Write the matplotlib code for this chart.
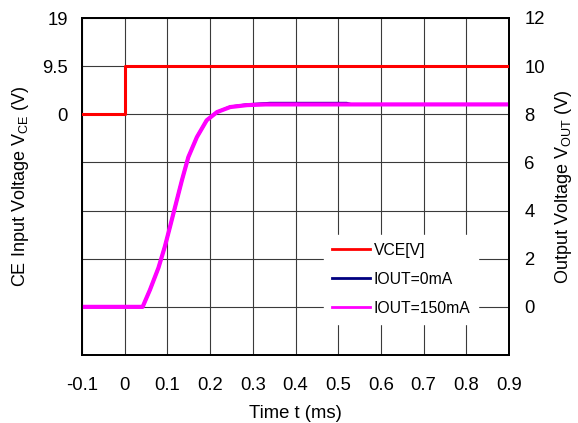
import matplotlib
matplotlib.use('Agg')
import matplotlib.pyplot as plt

plt.rcParams['font.family'] = ['Liberation Sans', 'DejaVu Sans']
plt.rcParams['mathtext.fontset'] = 'custom'
plt.rcParams['mathtext.rm'] = 'Liberation Sans'

# VCE step (left axis)
t_vce = [-0.1, 0.0, 0.0, 0.9]
vce = [0.0, 0.0, 9.5, 9.5]

# VOUT rise (right axis)
t_out = [-0.1, 0.042, 0.059, 0.079, 0.094, 0.106, 0.12, 0.134, 0.149,
         0.169, 0.192, 0.216, 0.247, 0.286, 0.33, 0.9]
vout_150 = [0.0, 0.0, 0.7, 1.62, 2.5, 3.32, 4.29, 5.26, 6.22,
            7.05, 7.75, 8.09, 8.30, 8.38, 8.41, 8.41]
t_out0 = [-0.1, 0.042, 0.059, 0.079, 0.094, 0.106, 0.12, 0.134, 0.149,
          0.169, 0.192, 0.216, 0.247, 0.286, 0.34, 0.52, 0.53, 0.9]
vout_0 = [0.0, 0.0, 0.7, 1.62, 2.5, 3.32, 4.29, 5.26, 6.22,
          7.05, 7.75, 8.09, 8.31, 8.40, 8.46, 8.46, 8.41, 8.41]

xticks = [-0.1, 0, 0.1, 0.2, 0.3, 0.4, 0.5, 0.6, 0.7, 0.8, 0.9]
xlabels = ['-0.1', '0', '0.1', '0.2', '0.3', '0.4', '0.5', '0.6', '0.7', '0.8', '0.9']
left_ticks = [0, 9.5, 19]
left_labels = ['0', '9.5', '19']
right_ticks = [-2, 0, 2, 4, 6, 8, 10, 12]
right_labels = ['', '0', '2', '4', '6', '8', '10', '12']

fig = plt.figure(figsize=(5.78, 4.23), dpi=100)
# main axes holds VOUT (right scale) and the grid, twin on top holds VCE
ax = fig.add_axes([82 / 578, 1 - 355 / 423, 427 / 578, 337 / 423])
axl = ax.twinx()
ax.yaxis.tick_right()
ax.yaxis.set_label_position('right')
axl.yaxis.tick_left()
axl.yaxis.set_label_position('left')

gc = '#3a3a3a'
ax.set_xlim(-0.1, 0.9)
ax.set_xticks(xticks)
ax.set_xticklabels(xlabels)
ax.set_ylim(-2, 12)
ax.set_yticks(right_ticks)
ax.set_yticklabels(right_labels)
ax.grid(True, color=gc, linewidth=0.8)
ax.set_axisbelow(True)

axl.set_ylim(-47.5, 19)
axl.set_yticks(left_ticks)
axl.set_yticklabels(left_labels)

for a in (ax, axl):
    for s in a.spines.values():
        s.set_linewidth(1.3)
        s.set_color('black')

fs = 13.3
ax.tick_params(axis='x', length=0, pad=16, labelsize=fs)
ax.tick_params(axis='y', length=0, pad=11, labelsize=fs)
axl.tick_params(axis='y', length=0, pad=10, labelsize=fs)

l_0, = ax.plot(t_out0, vout_0, color='#000080', linewidth=2.0, zorder=3)
l_150, = ax.plot(t_out, vout_150, color='#ff00ff', linewidth=3.0, zorder=4)
l_vce, = axl.plot(t_vce, vce, color='#ff0000', linewidth=2.2, zorder=5)

ax.set_xlabel('Time t (ms)', fontsize=fs, labelpad=8)
axl.set_ylabel(r'CE Input Voltage V$_{\mathregular{CE}}$ (V)', fontsize=13, labelpad=8)
ax.set_ylabel(r'Output Voltage V$_{\mathregular{OUT}}$ (V)', fontsize=13, labelpad=5.5)

leg = axl.legend([l_vce, l_0, l_150], ['VCE[V]', 'IOUT=0mA', 'IOUT=150mA'],
                 loc='center', bbox_to_anchor=(0.748, 0.225), fontsize=11.3,
                 frameon=True, fancybox=False, edgecolor='white', facecolor='white',
                 framealpha=1, handlelength=2.4, handletextpad=0.25,
                 labelspacing=0.9, borderpad=0.5)
leg.set_zorder(10)
for h in leg.get_lines():
    h.set_linewidth(2.0)

fig.savefig('out.png', dpi=100)
